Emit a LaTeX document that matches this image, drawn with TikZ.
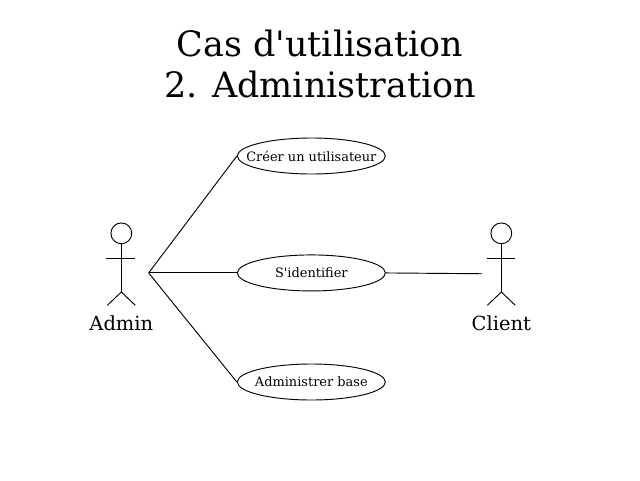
\documentclass[tikz,border=0pt]{standalone}
\usepackage{fontspec}
\setmainfont{DejaVu Serif}[Ligatures=TeXOff]
\usetikzlibrary{positioning, shapes.geometric}

\begin{document}
\begin{tikzpicture}[
    x=1pt, y=-1pt,
    usecase/.style={ellipse, draw, line width=0.7pt, minimum width=111pt, minimum height=27pt, inner sep=0pt, font=\fontsize{9.7}{11}\selectfont},
    actorlabel/.style={font=\fontsize{14.6}{16}\selectfont},
    stick/.style={line width=0.7pt}
]
    \useasboundingbox (0, 0) rectangle (480, 360);

    % Title
    \node[font=\fontsize{26.2}{31}\selectfont, align=center] (title) at (240, 48) {Cas d'utilisation\\2. Administration};

    % Use cases
    \node[usecase] (creer) at (233.5, 117) {\makebox[0pt]{Créer un utilisateur}};
    \node[usecase] (identifier) at (233.5, 204.7) {\makebox[0pt]{S'identifier}};
    \node[usecase] (base) at (233.5, 286.5) {\makebox[0pt]{Administrer base}};

    % Admin
    \draw[stick] (91, 175) circle (7.8);
    \draw[stick] (91, 183) -- (91, 219);
    \draw[stick] (79.5, 194) -- (101, 194);
    \draw[stick] (80.5, 229) -- (91, 219) -- (101.5, 229);
    \node[actorlabel] (admin) at (91, 242.5) {Admin};
    \coordinate (adminhand) at (111.5, 204.7);

    % Client
    \draw[stick] (376, 175) circle (7.8);
    \draw[stick] (376, 183) -- (376, 219);
    \draw[stick] (365, 194) -- (386, 194);
    \draw[stick] (365.5, 229) -- (376, 219) -- (386.5, 229);
    \node[actorlabel] (client) at (376, 242.5) {Client};
    \coordinate (clienthand) at (361.5, 205.3);

    % Connectors
    \draw[stick] (adminhand) -- (creer.west);
    \draw[stick] (adminhand) -- (identifier.west);
    \draw[stick] (adminhand) -- (base.west);
    \draw[stick] (identifier.east) -- (clienthand);
\end{tikzpicture}
\end{document}
